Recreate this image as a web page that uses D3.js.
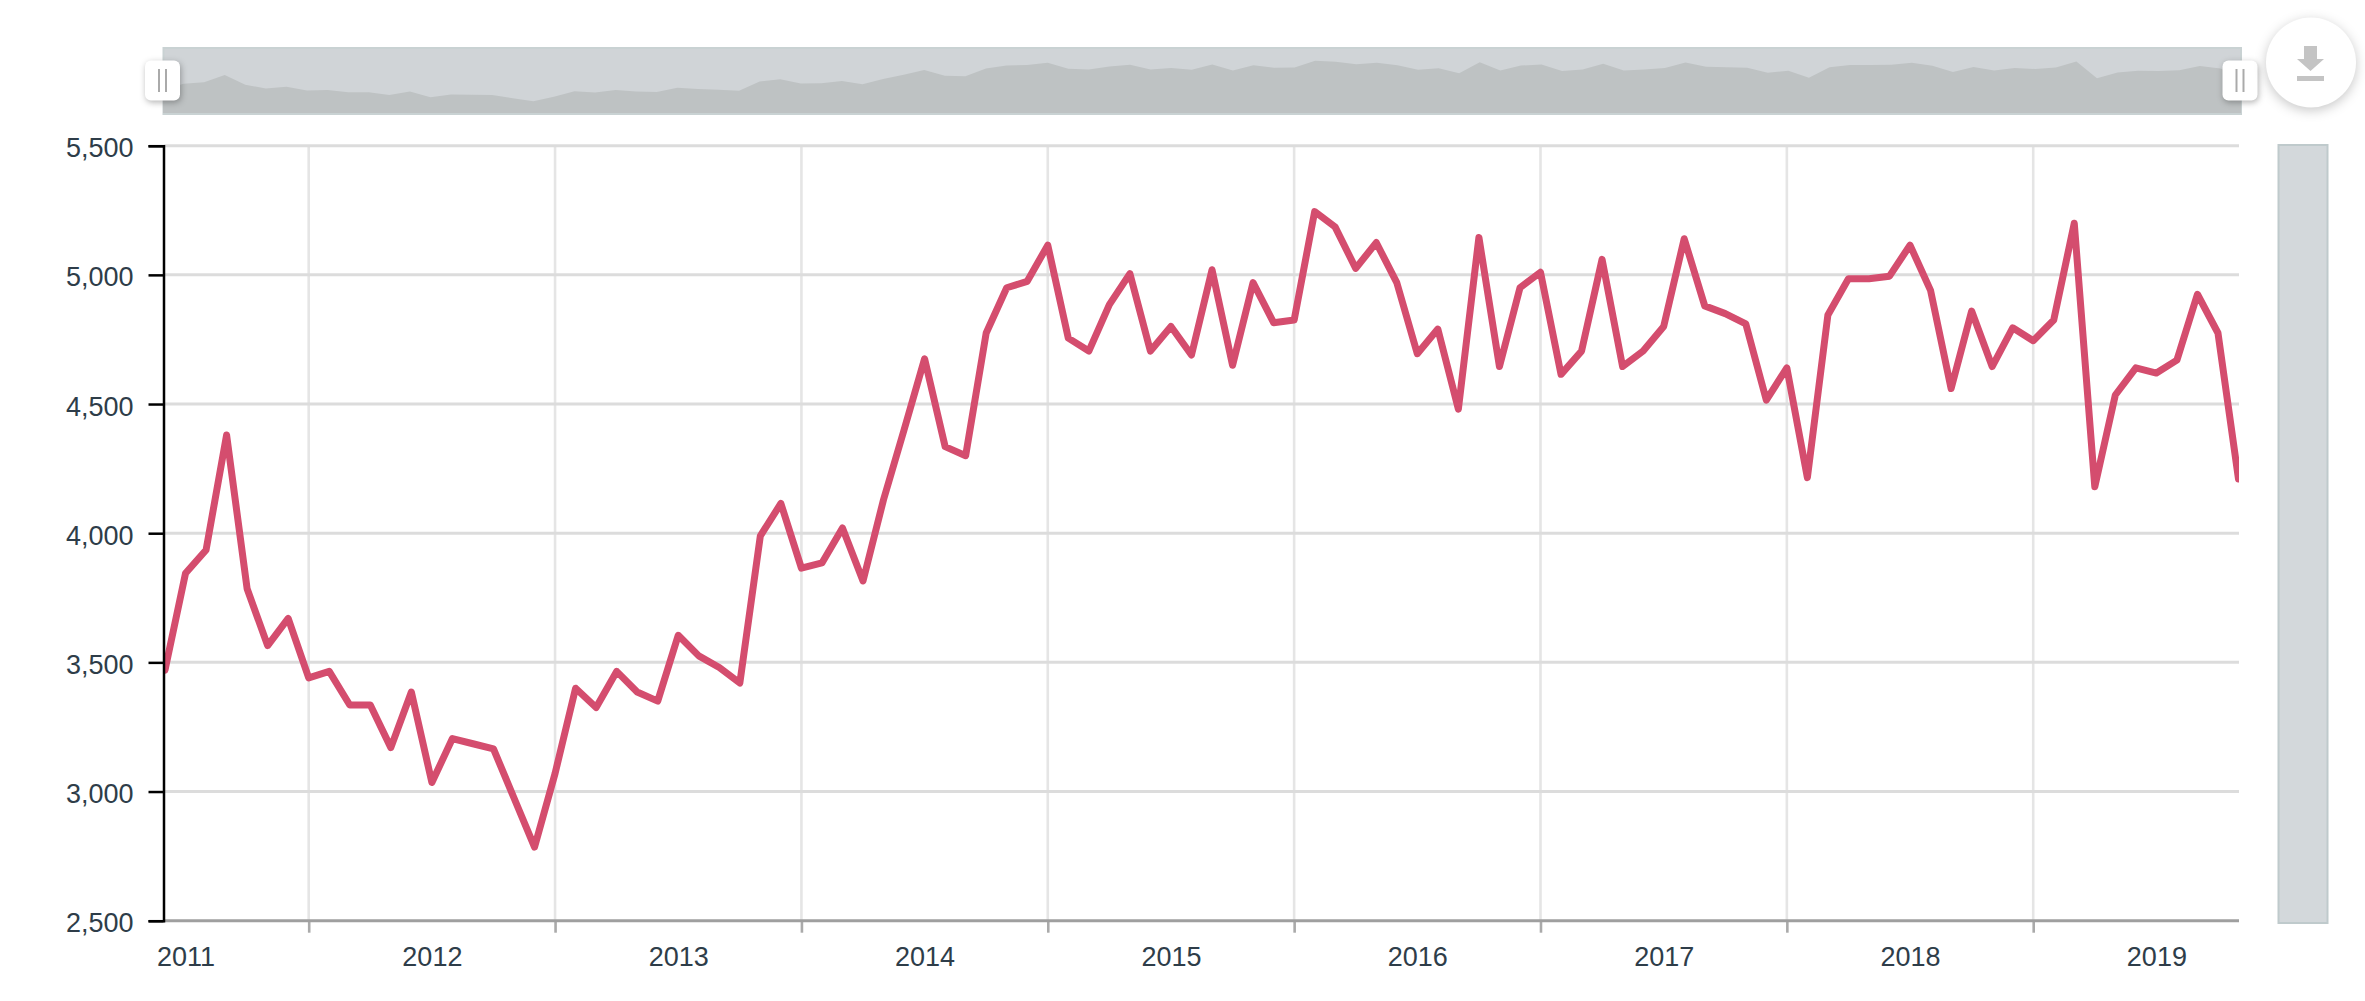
<!DOCTYPE html>
<html>
<head>
<meta charset="utf-8">
<script src="https://cdn.jsdelivr.net/npm/d3@7"></script>
<style>
  html, body { margin: 0; padding: 0; background: #fff; }
  svg { display: block; }
  text { font-family: "Liberation Sans", Arial, sans-serif; font-size: 27px; fill: #2e3d49; }
</style>
</head>
<body>
<svg width="2365" height="1001"></svg>
<script>
// monthly values
const values = [
  3470, 3845, 3935, 4380, 3785, 3565, 3670, 3440, 3465, 3335, 3335, 3170,
  3385, 3035, 3205, 3185, 3165, 2975, 2785, 3070, 3400, 3325, 3465, 3385,
  3350, 3605, 3525, 3480, 3420, 3990, 4115, 3865, 3885, 4020, 3815, 4130,
  4400, 4675, 4335, 4300, 4775, 4950, 4975, 5115, 4755, 4705, 4885, 5005,
  4705, 4800, 4690, 5020, 4650, 4970, 4815, 4825, 5245, 5185, 5025, 5125,
  4970, 4695, 4790, 4480, 5145, 4645, 4950, 5010, 4615, 4705, 5060, 4645,
  4705, 4800, 5140, 4880, 4850, 4810, 4515, 4640, 4215, 4845, 4985, 4985,
  4995, 5115, 4940, 4560, 4860, 4645, 4795, 4745, 4825, 5200, 4180, 4535,
  4640, 4620, 4670, 4925, 4775, 4210
];
const years = [2011, 2012, 2013, 2014, 2015, 2016, 2017, 2018, 2019];
const yTicks = [2500, 3000, 3500, 4000, 4500, 5000, 5500];
// index of the point under each year label / each year separator
const labelIdx = years.map((y, i) => 1 + i * 12);
const sepIdx = [7, 19, 31, 43, 55, 67, 79, 91];

const svg = d3.select("svg");
const plotLeft = 163.5, plotRight = 2239, plotTop = 145.7, plotBottom = 920.7;

const x = d3.scaleLinear().domain([0, values.length - 1]).range([165, 2238.5]);
const y = d3.scaleLinear().domain([2500, 5500]).range([plotBottom, plotTop]);

// overview strip
const miniX = d3.scaleLinear().domain([0, values.length - 1]).range([163, 2241]);
const miniY = d3.scaleLinear().domain([2080, 5950]).range([113, 49]);

svg.append("rect")
  .attr("x", 163.5).attr("y", 48).attr("width", 2077.5).attr("height", 66)
  .attr("fill", "#d0d4d7").attr("stroke", "#c9d2d3").attr("stroke-width", 2);

svg.append("path")
  .datum(values)
  .attr("fill", "#bec2c3")
  .attr("d", d3.area().x((d, i) => miniX(i)).y0(113).y1(d => miniY(d)));

// handles
function handle(cx, w) {
  svg.append("rect")
    .attr("x", cx - w / 2).attr("y", 60.5).attr("width", w).attr("height", 40).attr("rx", 6)
    .attr("fill", "#fff")
    .style("filter", "drop-shadow(1px 2px 3px rgba(0,0,0,0.3))");
  [-3.5, 3.5].forEach(o => {
    svg.append("line")
      .attr("x1", cx + o).attr("x2", cx + o).attr("y1", 69).attr("y2", 92)
      .attr("stroke", "#aaa").attr("stroke-width", 2);
  });
}
handle(162.5, 35);
handle(2240, 35);

// download button
svg.append("circle")
  .attr("cx", 2311).attr("cy", 62.5).attr("r", 45)
  .attr("fill", "#fff")
  .style("filter", "drop-shadow(0px 3px 6px rgba(0,0,0,0.22))");
svg.append("path")
  .attr("fill", "#c4c4c4")
  .attr("d", "M2304,46 H2317 V59 H2324 L2310.5,71 L2297,59 H2304 Z M2297,76 H2324 V81 H2297 Z");

// side bar
svg.append("rect")
  .attr("x", 2278.5).attr("y", 145).attr("width", 49).attr("height", 778)
  .attr("fill", "#d3d8db").attr("stroke", "#bfcacc").attr("stroke-width", 2);

// vertical separators + their ticks
const sepAxis = svg.append("g")
  .attr("transform", `translate(0,${plotBottom})`)
  .call(d3.axisBottom(x).tickValues(sepIdx).tickSize(12).tickFormat(""));
sepAxis.select(".domain").remove();
sepAxis.selectAll("line").attr("stroke", "#aaa").attr("stroke-width", 2.6);

svg.append("g").selectAll("line")
  .data(sepIdx)
  .join("line")
  .attr("x1", d => x(d)).attr("x2", d => x(d))
  .attr("y1", plotTop).attr("y2", plotBottom)
  .attr("stroke", "#e5e5e5").attr("stroke-width", 2.6);

// horizontal grid
svg.append("g").selectAll("line")
  .data(yTicks.filter(d => d > 2500))
  .join("line")
  .attr("x1", plotLeft).attr("x2", plotRight)
  .attr("y1", d => y(d)).attr("y2", d => y(d))
  .attr("stroke", "#dcdcdc").attr("stroke-width", 3);

// x axis baseline and year labels
const xAxis = svg.append("g")
  .attr("transform", `translate(0,${plotBottom})`)
  .call(d3.axisBottom(x).tickValues(labelIdx).tickSize(0).tickPadding(26)
    .tickFormat((d, i) => years[i]));
xAxis.select(".domain").remove();
xAxis.selectAll("text").attr("font-size", null).attr("fill", null);
svg.append("line")
  .attr("x1", plotLeft).attr("x2", plotRight).attr("y1", plotBottom).attr("y2", plotBottom)
  .attr("stroke", "#9f9f9f").attr("stroke-width", 3);

// the line, clipped to the plot
svg.append("clipPath").attr("id", "plot")
  .append("rect").attr("x", plotLeft).attr("y", 0).attr("width", plotRight - plotLeft).attr("height", 1001);

svg.append("path")
  .datum(values)
  .attr("clip-path", "url(#plot)")
  .attr("fill", "none")
  .attr("stroke", "#d44d6e")
  .attr("stroke-width", 7)
  .attr("stroke-linejoin", "round")
  .attr("stroke-linecap", "round")
  .attr("d", d3.line().x((d, i) => x(i)).y(d => y(d)));

// y axis
const yAxis = svg.append("g")
  .attr("transform", `translate(${plotLeft},0)`)
  .call(d3.axisLeft(y).tickValues(yTicks).tickSize(15).tickPadding(15).tickFormat(d3.format(",")));
yAxis.select(".domain").attr("stroke", "#000").attr("stroke-width", 2.5);
yAxis.selectAll("line").attr("stroke", "#000").attr("stroke-width", 2.5);
yAxis.selectAll("text").attr("font-size", null).attr("fill", null).attr("dy", "0.41em");
</script>
</body>
</html>
